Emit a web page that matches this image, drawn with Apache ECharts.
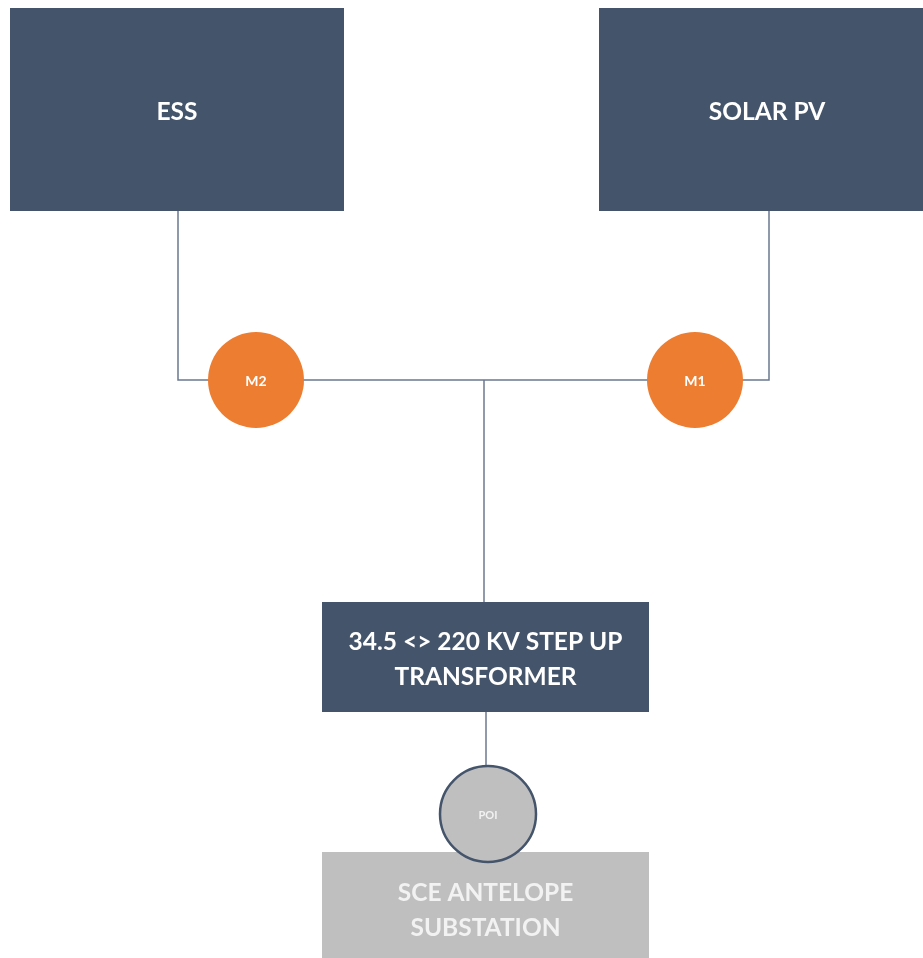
<!DOCTYPE html>
<html><head><meta charset="utf-8">
<script src="https://cdn.jsdelivr.net/npm/echarts@6/dist/echarts.min.js"></script>
<style>html,body{margin:0;padding:0;background:#fff}#c{width:923px;height:958px}</style>
</head><body><div id="c"></div>
<script>
// Diagram data (diagram coordinate space 0..923 x 0..958)
const boxNames = ['ESS', 'SOLAR PV', '34.5 <> 220 KV STEP UP\nTRANSFORMER', 'SCE ANTELOPE\nSUBSTATION'];
const boxLeft   = [10, 599, 322, 322];
const boxRight  = [344, 935, 649, 649];
const boxTop    = [8, 8, 602, 852];
const boxBottom = [211, 211, 712, 964];
const boxKind   = ['main', 'main', 'main', 'grid'];

const nodeNames = ['M2', 'M1', 'POI'];
const nodeX = [256, 695, 488];
const nodeY = [380, 380, 814];
const nodeKind = ['meter', 'meter', 'poi'];

const connectors = [
  [[178, 211], [178, 380], [769, 380], [769, 211]],
  [[484, 380], [484, 602]],
  [[486, 712], [486, 766]]
];

const styles = {
  main: {fill: '#44546a', text: '#ffffff', size: 24.5},
  grid: {fill: '#bfbfbf', text: '#f2f2f2', size: 24.5},
  meter: {fill: '#ed7d31', stroke: null, text: '#ffffff', size: 14, r: 48},
  poi: {fill: '#bfbfbf', stroke: '#44546a', text: '#f2f2f2', size: 11, r: 48}
};
const FONT = 'Lato, "Open Sans", sans-serif';

const chart = echarts.init(document.getElementById('c'), null, {renderer: 'canvas'});
chart.setOption({
  animation: false,
  grid: {left: 0, right: 0, top: 0, bottom: 0},
  xAxis: {type: 'value', min: 0, max: 923, show: false},
  yAxis: {type: 'value', min: 0, max: 958, inverse: true, show: false},
  series: [
    {
      type: 'custom', z: 1, clip: false,
      data: connectors.map((c, i) => [i]),
      renderItem: function (params, api) {
        const pts = connectors[api.value(0)].map(p => api.coord(p));
        return {type: 'polyline', shape: {points: pts}, style: {stroke: '#6b7891', lineWidth: 1.5, fill: null}};
      }
    },
    {
      type: 'custom', z: 2, clip: false,
      data: boxNames.map((n, i) => [boxLeft[i], boxTop[i], boxRight[i], boxBottom[i], i]),
      renderItem: function (params, api) {
        const i = api.value(4);
        const p0 = api.coord([api.value(0), api.value(1)]);
        const p1 = api.coord([api.value(2), api.value(3)]);
        const s = styles[boxKind[i]];
        return {
          type: 'group',
          children: [
            {type: 'rect', shape: {x: p0[0], y: p0[1], width: p1[0] - p0[0], height: p1[1] - p0[1]}, style: {fill: s.fill}},
            {type: 'text', x: (p0[0] + p1[0]) / 2, y: (p0[1] + p1[1]) / 2 + 3, style: {
              text: boxNames[i], fill: s.text, font: 'bold ' + s.size + 'px ' + FONT,
              align: 'center', verticalAlign: 'middle', lineHeight: 35}}
          ]
        };
      }
    },
    {
      type: 'custom', z: 3, clip: false,
      data: nodeNames.map((n, i) => [nodeX[i], nodeY[i], i]),
      renderItem: function (params, api) {
        const i = api.value(2);
        const p = api.coord([api.value(0), api.value(1)]);
        const s = styles[nodeKind[i]];
        return {
          type: 'group',
          children: [
            {type: 'circle', shape: {cx: p[0], cy: p[1], r: s.r}, style: {fill: s.fill, stroke: s.stroke, lineWidth: s.stroke ? 2.5 : 0}},
            {type: 'text', x: p[0], y: p[1] + 1, style: {text: nodeNames[i], fill: s.text, font: 'bold ' + s.size + 'px ' + FONT, align: 'center', verticalAlign: 'middle'}}
          ]
        };
      }
    }
  ]
});
</script></body></html>
